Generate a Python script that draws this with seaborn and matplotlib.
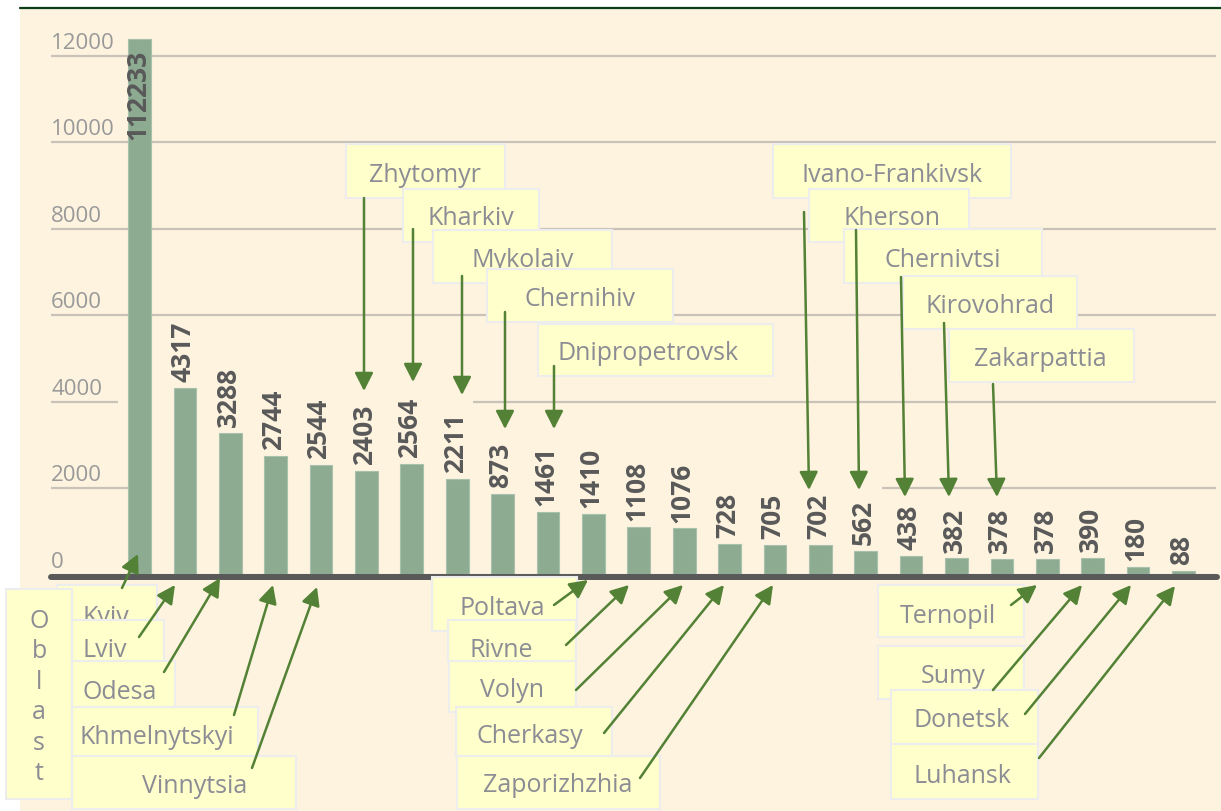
import numpy as np
import pandas as pd
import matplotlib
matplotlib.use("Agg")
import matplotlib.pyplot as plt
import seaborn as sns
from matplotlib.patches import Rectangle, FancyArrowPatch
from matplotlib.lines import Line2D
import matplotlib.transforms as mtransforms

# ---------------- data ----------------
regions = ["Kyiv", "Lviv", "Odesa", "Khmelnytskyi", "Vinnytsia", "Zhytomyr",
           "Kharkiv", "Mykolaiv", "Chernihiv", "Dnipropetrovsk", "Poltava",
           "Rivne", "Volyn", "Cherkasy", "Zaporizhzhia", "Ivano-Frankivsk",
           "Kherson", "Chernivtsi", "Kirovohrad", "Zakarpattia", "Ternopil",
           "Sumy", "Donetsk", "Luhansk"]
values = [12400, 4317, 3288, 2744, 2544, 2403, 2564, 2211, 1880, 1461, 1410,
          1108, 1076, 728, 705, 702, 562, 438, 382, 378, 378, 390, 180, 88]
value_labels = ["112233", "4317", "3288", "2744", "2544", "2403", "2564",
                "2211", "873", "1461", "1410", "1108", "1076", "728", "705",
                "702", "562", "438", "382", "378", "378", "390", "180", "88"]
y_ticks = [0, 2000, 4000, 6000, 8000, 10000, 12000]
axis_title = "Oblast"

# ---------------- style ----------------
CREAM = "#FDF3DF"
BAR = "#8CAB91"
BAREDGE = "#A8C1AC"
GRID = "#C9C2B8"
TICK = "#999999"
LABEL = "#595959"
BOXFACE = "#FFFFCC"
BOXEDGE = "#EDEDED"
BOXTEXT = "#8C8C94"
ARROW = "#538135"
TOPLINE = "#0A3D18"
FONT = "Open Sans"

sns.set_style("white")
plt.rcParams["font.family"] = [FONT, "DejaVu Sans"]

W, H = 1221, 812
fig = plt.figure(figsize=(W / 100, H / 100), dpi=100)
fig.patch.set_facecolor("white")


def fx(x):
    return x / W


def fy(y):
    return 1 - y / H


# background panel + top rule
fig.add_artist(Rectangle((fx(20), 0), 1 - fx(20), fy(10), transform=fig.transFigure,
                         facecolor=CREAM, edgecolor="none", zorder=-5))
fig.add_artist(Line2D([fx(20), 1], [fy(9), fy(9)], transform=fig.transFigure,
                      color=TOPLINE, lw=1.6, zorder=-4))

# axes placement
ax = fig.add_axes([fx(51), fy(576), fx(1216) - fx(51), (576 - 31) / H])
ax.set_facecolor("none")

df = pd.DataFrame({"region": regions, "value": values})
sns.barplot(data=df, x="region", y="value", color=BAR, width=0.5, saturation=1,
            edgecolor=BAREDGE, linewidth=0.8, ax=ax, zorder=2)

ax.set_xlim(-1.95, 23.717)
ax.set_ylim(0, 12600)
ax.set_yticks(y_ticks)
ax.grid(axis="y", color=GRID, lw=1.6)
ax.grid(axis="x", visible=False)
ax.set_axisbelow(True)
ax.tick_params(left=False, bottom=False, labelleft=False, labelbottom=False)
ax.set_xlabel("")
ax.set_ylabel("")
for s in ax.spines.values():
    s.set_visible(False)

# patches of plot area hiding parts of gridlines (as in the original)
ax.add_patch(Rectangle((-0.474, 3750), 7.82, 500, facecolor=CREAM,
                       edgecolor="none", zorder=1.5))
ax.add_patch(Rectangle((-0.25, 1800), 16.6, 400, facecolor=CREAM,
                       edgecolor="none", zorder=1.5))

# y tick labels sitting above the gridlines
for v in y_ticks:
    ax.annotate(f"{v}", xy=(0, v), xycoords=ax.get_yaxis_transform(),
                xytext=(0, 6), textcoords="offset points", ha="left",
                va="baseline", fontsize=16, color=TICK, annotation_clip=False)

# thick baseline
off = mtransforms.ScaledTranslation(0, -0.02, fig.dpi_scale_trans)
ax.add_line(Line2D([0, 1.001], [0, 0], transform=ax.get_yaxis_transform() + off,
                   color="#595959", lw=4.3, clip_on=False, zorder=3))

# value labels
for i, (v, lab) in enumerate(zip(values, value_labels)):
    if v > 10000:
        ax.annotate(lab, xy=(i, v), xytext=(-1, -7), textcoords="offset points",
                    rotation=90, ha="center", va="top", fontsize=19,
                    fontweight="bold", color=LABEL, zorder=4)
    else:
        ax.annotate(lab, xy=(i, v), xytext=(-1.5, 5), textcoords="offset points",
                    rotation=90, ha="center", va="bottom", fontsize=19,
                    fontweight="bold", color=LABEL, zorder=4)

# ---------------- call-out boxes (layout in pixels) ----------------
# name, box (x0, y0, x1, y1), text (left x, baseline y), arrow tail, arrow tip
callouts = [
    ("Kyiv", (57, 586, 157, 621), (83, 624), (122, 589), (138, 555)),
    ("Lviv", (72, 621, 164, 662), (83, 657), (139, 638), (175, 586)),
    ("Odesa", (72, 662, 175, 708), (83, 699), (164, 673), (220, 579)),
    ("Khmelnytskyi", (72, 708, 258, 757), (80, 744), (234, 716), (273, 586)),
    ("Vinnytsia", (72, 757, 296, 810), (142, 793), (252, 769), (317, 588)),
    ("Poltava", (432, 578, 577, 632), (460, 615), (554, 606), (588, 581)),
    ("Rivne", (448, 621, 576, 662), (470, 657), (566, 646), (629, 586)),
    ("Volyn", (449, 662, 576, 713), (480, 697), (576, 691), (683, 586)),
    ("Cherkasy", (456, 708, 612, 757), (477, 743), (604, 734), (724, 586)),
    ("Zaporizhzhia", (457, 757, 660, 810), (483, 792), (640, 779), (773, 586)),
    ("Ternopil", (878, 586, 1024, 638), (900, 623), (1011, 606), (1037, 586)),
    ("Sumy", (878, 647, 1024, 700), (921, 683), (993, 691), (1082, 586)),
    ("Donetsk", (891, 691, 1038, 745), (913, 727), (1025, 715), (1131, 586)),
    ("Luhansk", (891, 745, 1038, 800), (913, 783), (1039, 759), (1175, 587)),
    ("Zhytomyr", (346, 145, 505, 199), (369, 182), (364, 199), (364, 392)),
    ("Kharkiv", (403, 190, 539, 243), (427, 225), (413, 230), (413, 383)),
    ("Mykolaiv", (433, 231, 612, 284), (471, 267), (462, 277), (462, 396)),
    ("Chernihiv", (487, 270, 673, 323), (524, 306), (505, 313), (505, 430)),
    ("Dnipropetrovsk", (538, 325, 773, 377), (558, 360), (554, 367), (554, 430)),
    ("Ivano-Frankivsk", (773, 145, 1011, 199), (801, 182), (804, 213), (809, 491)),
    ("Kherson", (809, 190, 969, 243), (843, 225), (856, 231), (859, 491)),
    ("Chernivtsi", (844, 230, 1042, 284), (884, 267), (901, 278), (905, 498)),
    ("Kirovohrad", (903, 277, 1077, 330), (926, 313), (944, 324), (949, 498)),
    ("Zakarpattia", (949, 330, 1134, 383), (974, 366), (993, 385), (997, 498)),
]

z = 10.0
for k, (name, (x0, y0, x1, y1), (tx, ty), tail, tip) in enumerate(callouts):
    fig.add_artist(Rectangle((fx(x0), fy(y1)), fx(x1) - fx(x0), (y1 - y0) / H,
                             transform=fig.transFigure, facecolor=BOXFACE,
                             edgecolor=BOXEDGE, lw=1.5, zorder=z))
    fig.text(fx(tx), fy(ty), name, ha="left", va="baseline", fontsize=18,
             color=BOXTEXT, zorder=z + 0.01)
    z += 0.1
    if name == "Kyiv":
        # the "Oblast" box sits over the Kyiv box
        fig.add_artist(Rectangle((fx(6), fy(800)), fx(72) - fx(6), (800 - 590) / H,
                                 transform=fig.transFigure, facecolor=BOXFACE,
                                 edgecolor=BOXEDGE, lw=1.5, zorder=z))
        for j, ch in enumerate(axis_title):
            fig.text(fx(39), fy(628 + 30.4 * j), ch, ha="center", va="baseline",
                     fontsize=18, color=BOXTEXT, zorder=z + 0.01)
        z += 0.1

for name, box, txt, tail, tip in callouts:
    fig.add_artist(FancyArrowPatch((fx(tail[0]), fy(tail[1])), (fx(tip[0]), fy(tip[1])),
                                   transform=fig.transFigure,
                                   arrowstyle="-|>,head_length=0.55,head_width=0.28",
                                   mutation_scale=20, color=ARROW, lw=1.8,
                                   shrinkA=0, shrinkB=0, zorder=50))

fig.savefig("out.png", dpi=100, facecolor=fig.get_facecolor())
